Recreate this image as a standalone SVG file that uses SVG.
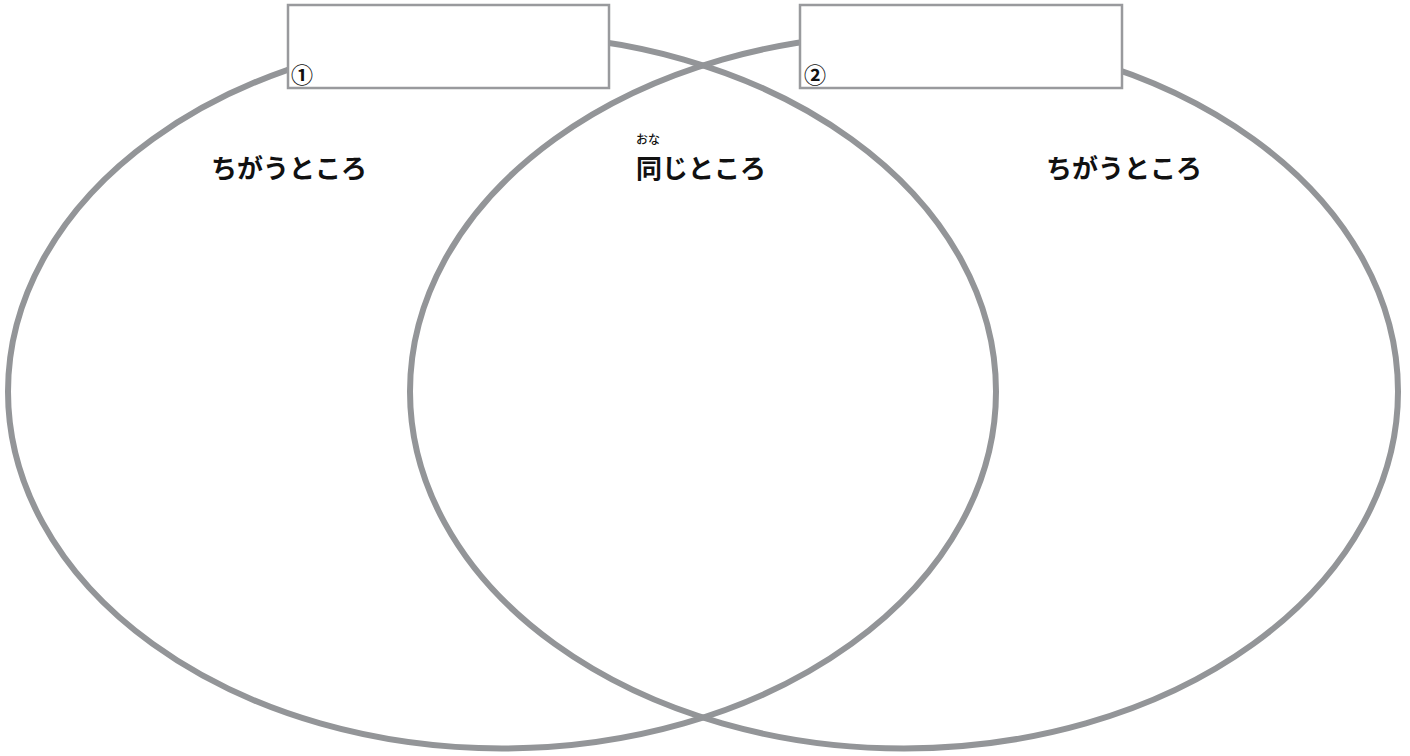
<svg xmlns="http://www.w3.org/2000/svg" width="1410" height="756" viewBox="0 0 1410 756">
<style>
.ring{fill:none;stroke:#939598;stroke-width:6}
.box{fill:#fff;stroke:#999a9d;stroke-width:2.5}
.lbl{font-family:"Noto Sans CJK JP","Noto Sans",sans-serif;font-weight:bold;font-size:26px;fill:#111;text-anchor:middle}
.num{font-family:"Noto Sans CJK JP",sans-serif;font-weight:bold;font-size:22px;fill:#111}
.ruby{font-family:"Noto Sans CJK JP",sans-serif;font-weight:500;font-size:12px;fill:#111;text-anchor:middle}
</style>
<rect width="1410" height="756" fill="#fff"/>
<g id="connectors">
<ellipse id="left-circle" class="ring" cx="502" cy="391.5" rx="494" ry="357"/>
<ellipse id="right-circle" class="ring" cx="904" cy="391.5" rx="494" ry="357"/>
</g>
<g id="box1">
<rect class="box" x="288" y="5" width="321" height="83"/>
<text class="num" x="291" y="83">①</text>
</g>
<g id="box2">
<rect class="box" x="800" y="5" width="322" height="83"/>
<text class="num" x="804" y="83">②</text>
</g>
<g id="label-left">
<text class="lbl" x="289" y="178">ちがうところ</text>
</g>
<g id="label-center">
<text class="ruby" x="648" y="144">おな</text>
<text class="lbl" x="701" y="178">同じところ</text>
</g>
<g id="label-right">
<text class="lbl" x="1124" y="178">ちがうところ</text>
</g>
</svg>
